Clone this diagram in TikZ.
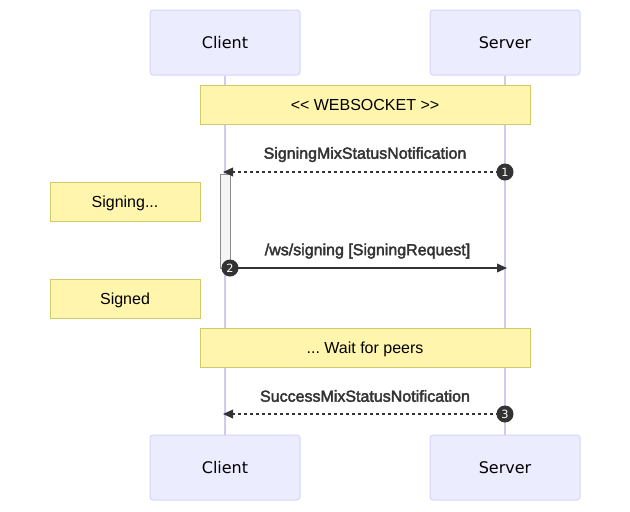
\documentclass[tikz,border=0pt]{standalone}
\usepackage{fontspec}
\setmainfont{Liberation Sans}
\newfontfamily\actorfont{DejaVu Sans}
\newfontfamily\msgfont[FakeBold=2.5]{Liberation Sans}
\usetikzlibrary{arrows.meta,positioning}
\definecolor{actorfill}{HTML}{ECECFF}
\definecolor{actorline}{HTML}{D4D4FA}
\definecolor{lifeline}{HTML}{D2C8F2}
\definecolor{notefill}{HTML}{FFF5AD}
\definecolor{noteline}{HTML}{CFCB6B}
\definecolor{msgcol}{HTML}{333333}
\frenchspacing

\tikzset{
  actor/.style={draw=actorline,fill=actorfill,rounded corners=2.25pt,line width=0.75pt,
    minimum width=112.5pt,minimum height=48.75pt,inner sep=0pt,
    font=\actorfont\fontsize{12}{14}\selectfont},
  note/.style={draw=noteline,fill=notefill,line width=0.75pt,minimum height=29.25pt,
    inner sep=0pt,text height=8.6pt,text depth=0pt,font=\fontsize{12}{14}\selectfont},
  msg/.style={msgcol,line width=1.1pt,-{Triangle[length=7.5pt,width=6.5pt]}},
  reply/.style={msg,dash pattern=on 2.25pt off 2.25pt},
  msglabel/.style={text=msgcol,text height=8.6pt,text depth=0pt,
    font=\msgfont\fontsize{12}{14}\selectfont},
  seq/.style={circle,fill=msgcol,text=white,minimum size=12.75pt,inner sep=0pt,
    font=\actorfont\fontsize{8.5}{9}\selectfont}
}

\begin{document}
\begin{tikzpicture}[x=0.75pt,y=-0.75pt]
    \useasboundingbox (0,0) rectangle (630,511);
    \node[actor] (clientTop) at (225,42.5) {Client};
    \node[actor] (serverTop) at (505,42.5) {Server};
    \node[actor] (clientBot) at (225,467.5) {Client};
    \node[actor] (serverBot) at (505,467.5) {Server};
    \draw[lifeline,line width=0.9pt] (clientTop) -- (clientBot);
    \draw[lifeline,line width=0.9pt] (serverTop) -- (serverBot);
    \node[note,minimum width=247.5pt] (websocket) at (365,104.5) {<{}< WEBSOCKET >{}>};
    \node[note,minimum width=112.5pt] (signing) at (125,201.5) {Signing...};
    \node[note,minimum width=112.5pt] (signed) at (125,298.5) {Signed};
    \node[note,minimum width=247.5pt] (wait) at (365,347.5) {... Wait for peers};
    \node[draw=black!45,fill=black!4,line width=0.75pt,minimum width=7.5pt,minimum height=70.5pt,inner sep=0pt] (act) at (225,221) {};
    \coordinate (s1) at (505,172);
    \coordinate (e1) at (223,172);
    \coordinate (s2) at (230,268);
    \coordinate (e2) at (507,268);
    \coordinate (s3) at (505,414);
    \coordinate (e3) at (223,414);
    \draw[reply] (s1) -- (e1);
    \draw[msg] (s2) -- (e2);
    \draw[reply] (s3) -- (e3);
    \node[msglabel] (l1) at (365,153) {SigningMixStatusNotification};
    \node[msglabel] (l2) at (367.5,249.5) {/ws/signing [SigningRequest]};
    \node[msglabel] (l3) at (365,396) {SuccessMixStatusNotification};
    \node[seq] (n1) at (s1) {1};
    \node[seq] (n2) at (s2) {2};
    \node[seq] (n3) at (s3) {3};
  \end{tikzpicture}
\end{document}
